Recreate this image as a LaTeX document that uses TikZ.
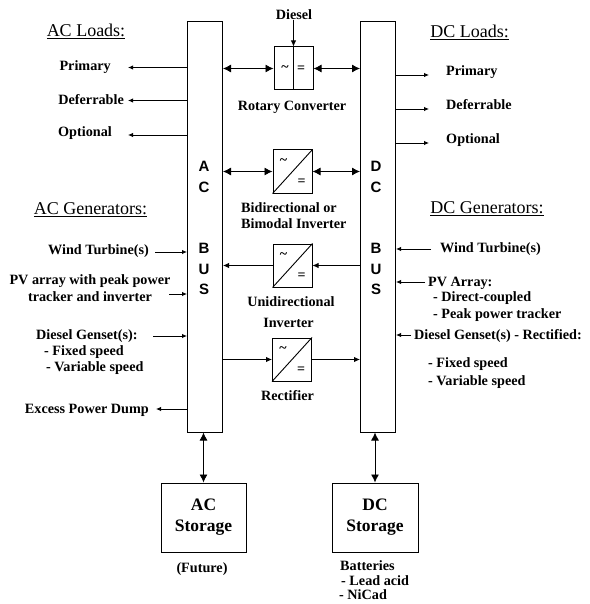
\documentclass[tikz,border=0pt]{standalone}
\usepackage{fontspec}
\setmainfont{Liberation Serif}
\newfontfamily\busfont{Liberation Sans}
\usetikzlibrary{arrows.meta}
\tikzset{
  x=1pt,y=-1pt,
  block/.style={draw,line width=1pt,inner sep=0},
  conn/.style={line width=0.9pt},
  tip/.style={-{Latex[length=6pt,width=5.5pt]}},
  bitip/.style={{Latex[length=8pt,width=8pt]}-{Latex[length=8pt,width=8pt]}},
  smalltip/.style={-{Latex[length=5pt,width=4.5pt]}},
  lbl/.style={font=\bfseries\fontsize{14.2}{17}\selectfont,inner sep=0,anchor=mid,yshift=-2pt},
  lblw/.style={lbl,anchor=mid west},
  lble/.style={lbl,anchor=mid east},
  head/.style={font=\fontsize{18}{20}\selectfont,inner sep=0,anchor=mid,yshift=-2pt},
  busl/.style={font=\busfont\bfseries\fontsize{15}{17}\selectfont,inner sep=0},
  sym/.style={font=\bfseries\fontsize{14}{14}\selectfont,inner sep=0},
  store/.style={block,minimum height=69pt,align=center,font=\bfseries\fontsize{17.5}{21}\selectfont},
}
\begin{document}
\begin{tikzpicture}
\useasboundingbox (0,0) rectangle (589,604);
% buses
\node[block,minimum width=35pt,minimum height=410pt] (acbus) at (205,227) {};
\node[block,minimum width=35pt,minimum height=410pt] (dcbus) at (378,227) {};
\foreach \l/\y in {A/166,C/187,B/248,U/269,S/289} \node[busl] at (204,\y) {\l};
\foreach \l/\y in {D/166,C/187,B/248,U/269,S/289} \node[busl] at (376,\y) {\l};
% converters
\node[block,minimum width=39pt,minimum height=43pt] (rot) at (293.5,68.5) {};
\draw[line width=0.9pt] (rot.north) -- (rot.south);
\node[sym] at (285,69) {\textasciitilde};
\node[sym] at (301,69) {=};
\foreach \n/\xx/\yy in {bid/292.5/171.5,uni/292.5/265.5,rec/292/359.5}{
  \node[block,minimum width=39pt,minimum height=43pt] (\n) at (\xx,\yy) {};
  \draw[line width=0.9pt] (\n.south west) -- (\n.north east);
  \node[sym] at ([shift={(-9,-10)}]\n.center) {\textasciitilde};
  \node[sym] at ([shift={(9,11)}]\n.center) {=};
}
% bus-converter connectors
\node[lbl] (dieseltxt) at (294,15) {Diesel};
\draw[conn,tip] (dieseltxt.south -| rot.north) -- (rot.north);
\draw[conn,bitip] (acbus.east |- rot.west) -- (rot.west);
\draw[conn,bitip] (rot.east) -- (dcbus.west |- rot.east);
\draw[conn,bitip] (acbus.east |- bid.west) -- (bid.west);
\draw[conn,bitip] (bid.east) -- (dcbus.west |- bid.east);
\draw[conn,tip] (uni.west) -- (acbus.east |- uni.west);
\draw[conn,tip] (dcbus.west |- uni.east) -- (uni.east);
\draw[conn,tip] (acbus.east |- rec.west) -- (rec.west);
\draw[conn,tip] (rec.east) -- (dcbus.west |- rec.east);
% converter labels
\node[lbl] at (292,106) {Rotary Converter};
\node[lblw] at (241,208) {Bidirectional or};
\node[lblw] at (241,224) {Bimodal Inverter};
\node[lbl] at (291,302) {Unidirectional};
\node[lbl] at (288.5,323) {Inverter};
\node[lbl] at (287.5,396) {Rectifier};
% AC side
\node[head] at (86,32) {\underline{AC Loads:}};
\node[head] at (90.5,210) {\underline{AC Generators:}};
\node[lble] (p1) at (111,66) {Primary};
\node[lble] (p2) at (124,100) {Deferrable};
\node[lble] (p3) at (112,132) {Optional};
\coordinate (p1t) at (128,67.5); \coordinate (p2t) at (128,100.5); \coordinate (p3t) at (128,135);
\draw[conn,smalltip] (acbus.west |- p1t) -- (p1t);
\draw[conn,smalltip] (acbus.west |- p2t) -- (p2t);
\draw[conn,smalltip] (acbus.west |- p3t) -- (p3t);
\node[lble] (w) at (149,250) {Wind Turbine(s)};
\node[lbl] (pv1) at (90,280) {PV array with peak power};
\node[lbl] (pv2) at (90,297) {tracker and inverter};
\node[lblw] (dg1) at (36,335) {Diesel Genset(s):};
\node[lblw] (dg2) at (44,351) {- Fixed speed};
\node[lblw] (dg3) at (46,367) {- Variable speed};
\node[lble] (ex) at (149,409) {Excess Power Dump};
\coordinate (a1) at (155,252); \coordinate (a2) at (169,294); \coordinate (a3) at (153,336); \coordinate (a4) at (156,409);
\draw[conn,smalltip] (a1) -- (acbus.west |- a1);
\draw[conn,smalltip] (a2) -- (acbus.west |- a2);
\draw[conn,smalltip] (a3) -- (acbus.west |- a3);
\draw[conn,smalltip] (acbus.west |- a4) -- (a4);
% DC side
\node[head] at (469.5,33) {\underline{DC Loads:}};
\node[head] at (487,209) {\underline{DC Generators:}};
\coordinate (q1) at (429,75); \coordinate (q2) at (429,109); \coordinate (q3) at (429,143);
\draw[conn,smalltip] (dcbus.east |- q1) -- (q1);
\draw[conn,smalltip] (dcbus.east |- q2) -- (q2);
\draw[conn,smalltip] (dcbus.east |- q3) -- (q3);
\node[lblw] (r1) at (446,71) {Primary};
\node[lblw] (r2) at (446,105) {Deferrable};
\node[lblw] (r3) at (446,139) {Optional};
\node[lblw] (g1) at (440,248) {Wind Turbine(s)};
\node[lblw] (g2) at (428,282) {PV Array:};
\node[lblw] (g2a) at (433,297) {- Direct-coupled};
\node[lblw] (g2b) at (433,314) {- Peak power tracker};
\node[lblw] (g3) at (414,335) {Diesel Genset(s) - Rectified:};
\node[lblw] (g3a) at (428,363) {- Fixed speed};
\node[lblw] (g3b) at (428,381) {- Variable speed};
\coordinate (b1) at (431,249); \coordinate (b2) at (425,282); \coordinate (b3) at (411,335);
\draw[conn,smalltip] (b1) -- (dcbus.east |- b1);
\draw[conn,smalltip] (b2) -- (dcbus.east |- b2);
\draw[conn,smalltip] (b3) -- (dcbus.east |- b3);
% storage
\node[store,minimum width=85pt] (acs) at (203.5,517.5) {AC\\Storage};
\node[store,minimum width=86pt] (dcs) at (375,517.5) {DC\\Storage};
\draw[conn,bitip] (acbus.south -| acs.north) -- (acs.north);
\draw[conn,bitip] (dcbus.south -| dcs.north) -- (dcs.north);
\node[lbl] at (202,568) {(Future)};
\node[lblw] at (340,566) {Batteries};
\node[lblw] at (341,581) {- Lead acid};
\node[lblw] at (339,595) {- NiCad};
\end{tikzpicture}
\end{document}
